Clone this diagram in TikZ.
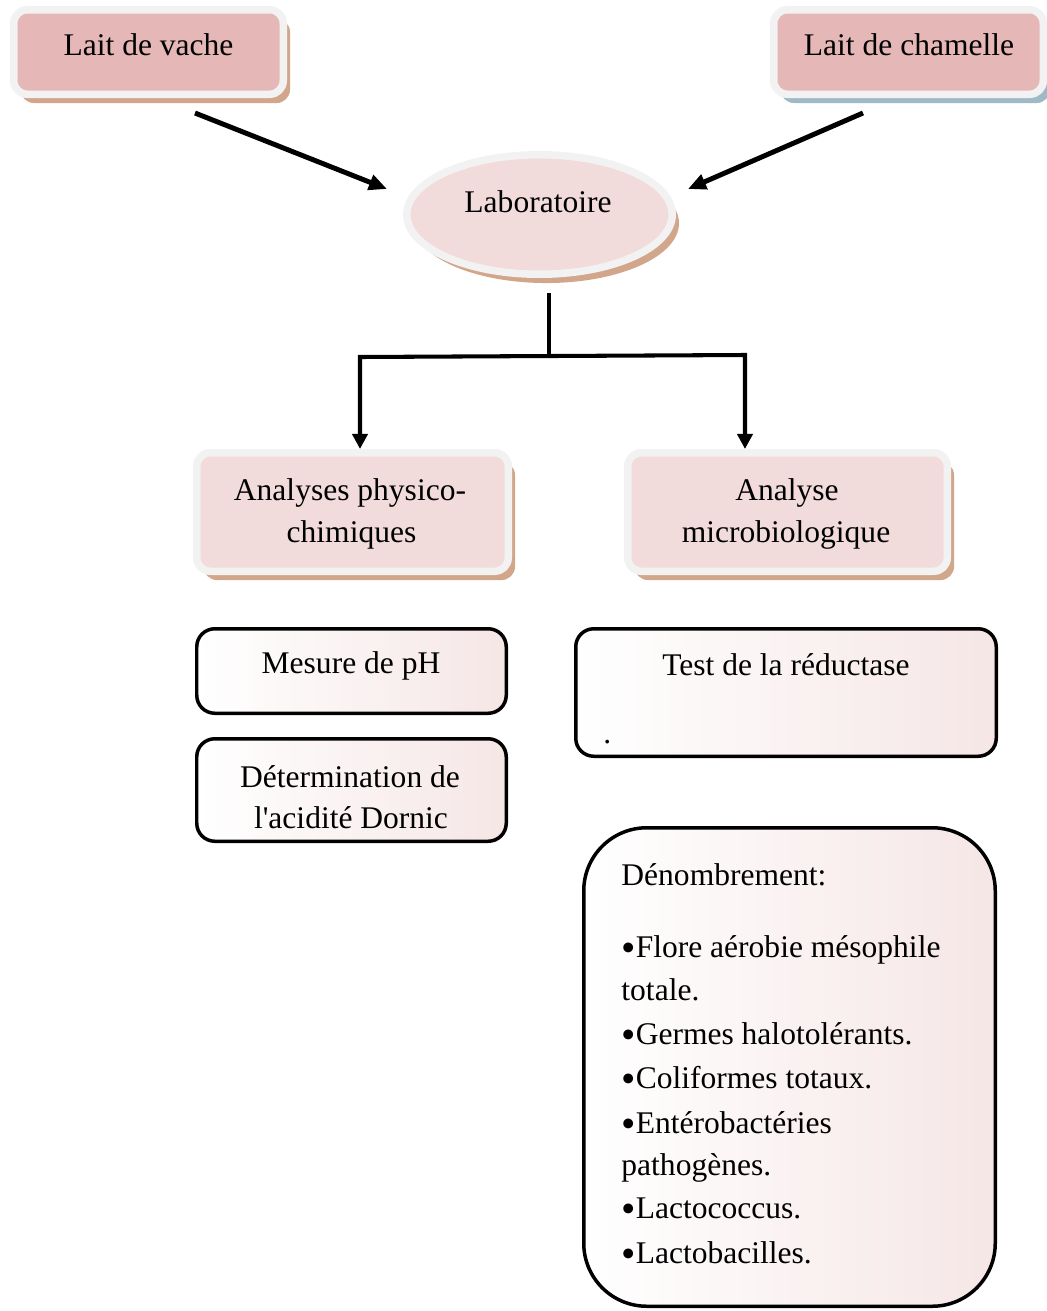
\documentclass[tikz,border=0pt]{standalone}
\usepackage{fontspec}
\usepackage{graphicx}
\setmainfont{Liberation Serif}
\usetikzlibrary{arrows.meta, shapes.geometric, shadows}
\definecolor{pinkdeep}{HTML}{E5B8B7}
\definecolor{pinklight}{HTML}{F2DBDB}
\definecolor{rimgray}{HTML}{F2F2F2}
\definecolor{tanshade}{HTML}{D2A68A}
\definecolor{blueshade}{HTML}{9FBAC5}
\definecolor{roseshade}{HTML}{F6E6E6}
\newcommand{\pxu}{0.444pt}
\newcommand{\bul}{\raisebox{-1.8pt}{\scalebox{1.3}{•}}}

\begin{document}
\begin{tikzpicture}[
  x = \pxu, y = -\pxu,
  every node/.style = {inner sep = 0pt, font = \fontsize{14}{19}\selectfont},
  tanshadow/.style = {drop shadow = {shadow xshift = 3pt, shadow yshift = -3.9pt,
      fill = tanshade, opacity = 1}},
  blueshadow/.style = {drop shadow = {shadow xshift = 3pt, shadow yshift = -3.9pt,
      fill = blueshade, opacity = 1}},
  rimbox/.style = {rectangle, rounded corners = 6pt, draw = rimgray,
      line width = 3.33pt},
  testbox/.style = {rectangle, rounded corners = 8pt, draw = black,
      line width = 1.55pt, left color = white, right color = roseshade},
  bigarrow/.style = {line width = 2.2pt, -{Triangle[length = 8pt, width = 6.8pt]}},
  treeline/.style = {line width = 1.8pt},
  treetip/.tip = {Triangle[length = 6.7pt, width = 6.7pt]},
  txt/.style = {anchor = base},
  ltxt/.style = {anchor = base west}
]
\useasboundingbox (0,0) rectangle (1047,1311);

% top boxes
\node[rimbox, tanshadow, fill = pinkdeep, minimum width = 269.5*\pxu,
  minimum height = 84.5*\pxu] (vache) at (148.5,52) {};
\node[rimbox, blueshadow, fill = pinkdeep, minimum width = 269.5*\pxu,
  minimum height = 84.5*\pxu] (chamelle) at (908.5,52) {};
\node[ellipse, draw = rimgray, line width = 3.33pt, fill = pinklight, tanshadow,
  minimum width = 265.5*\pxu, minimum height = 119.5*\pxu] (labo) at (539.5,214.5) {};

% analyses
\node[rimbox, tanshadow, fill = pinklight, minimum width = 311.5*\pxu,
  minimum height = 118.5*\pxu] (physico) at (352.5,512) {};
\node[rimbox, tanshadow, fill = pinklight, minimum width = 319.5*\pxu,
  minimum height = 118.5*\pxu] (micro) at (787.5,512) {};

% methods
\node[testbox, minimum width = 309.5*\pxu, minimum height = 84.5*\pxu]
  (ph) at (351.5,671) {};
\node[testbox, minimum width = 309.5*\pxu, minimum height = 102.5*\pxu]
  (dornic) at (351.5,790) {};
\node[testbox, minimum width = 420.5*\pxu, minimum height = 127.5*\pxu]
  (reduct) at (786,692.5) {};
\node[testbox, rounded corners = 28pt, minimum width = 411.5*\pxu,
  minimum height = 478.5*\pxu] (denomb) at (789.5,1067) {};

% Labels
\node[txt] (vachetxt) at (148.5,55) {Lait de vache};
\node[txt] (chameltxt) at (909,55) {Lait de chamelle};
\node[txt] (labotxt) at (538,212) {Laboratoire};
\node[txt] (physicoa) at (350,500) {Analyses physico-};
\node[txt] (physicob) at (351.5,542) {chimiques};
\node[txt] (microa) at (787,500) {Analyse};
\node[txt] (microb) at (786,542) {microbiologique};
\node[txt] (phtxt) at (351,673) {Mesure de pH};
\node[txt] (dornica) at (350,787) {Détermination de};
\node[txt] (dornicb) at (351,828) {l\textquotesingle acidité Dornic};
\node[txt] (reducttxt) at (786,675) {Test de la réductase};
\node[ltxt] (reductdot) at (603,743) {.};
\foreach \yy/\tt [count = \i] in {885/Dénombrement:,
    957/\bul Flore aérobie mésophile, 1000/totale.,
    1044/\bul Germes halotolérants., 1088/\bul Coliformes totaux.,
    1133/\bul Entérobactéries, 1175/pathogènes.,
    1218/\bul Lactococcus., 1263/\bul Lactobacilles.}
  \node[ltxt] (denomb\i) at (621,\yy) {\tt};

% arrows
\coordinate (vacheout) at (195,113);
\coordinate (labowest) at (387,189);
\coordinate (chamelout) at (863,113);
\coordinate (laboeast) at (688,189);
\draw[bigarrow] (vacheout) -- (labowest);
\draw[bigarrow] (chamelout) -- (laboeast);

\coordinate (labodown) at (549,293);
\coordinate (forkmid) at (549,356);
\coordinate (forkleft) at (360,357);
\coordinate (forkright) at (745,355);
\draw[treeline] (labodown) -- (forkmid);
\draw[treeline, treetip-treetip] (forkleft |- physico.north) -- (forkleft)
  -- (forkright) -- (forkright |- micro.north);
\end{tikzpicture}
\end{document}
